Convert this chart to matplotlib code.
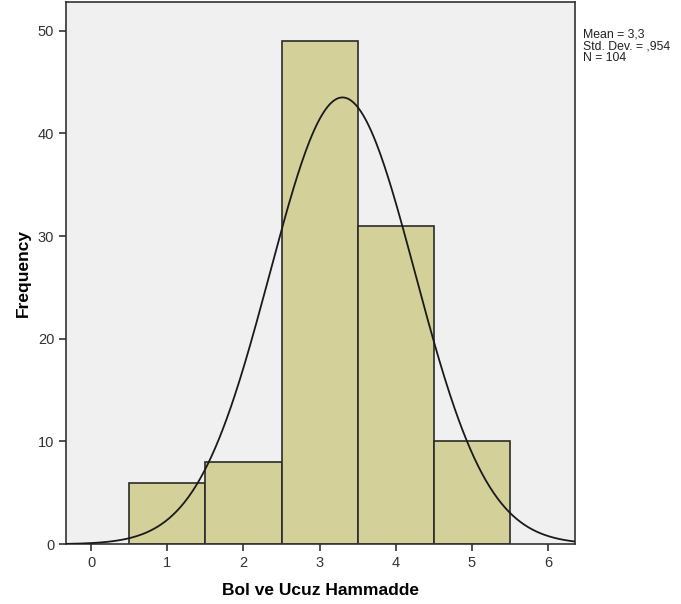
import numpy as np
import matplotlib
matplotlib.use('Agg')
import matplotlib.pyplot as plt

plt.rcParams['font.family'] = ['Liberation Sans', 'DejaVu Sans']

# Histogram data (bin centers and frequencies)
bins = [1, 2, 3, 4, 5]
counts = [6, 8, 49, 31, 10]
mean = 3.3
std = 0.954
n = 104
x_ticks = [0, 1, 2, 3, 4, 5, 6]
y_ticks = [0, 10, 20, 30, 40, 50]

fig = plt.figure(figsize=(6.81, 6.04), dpi=100)
ax = fig.add_axes([0.097, 0.099, 0.747, 0.898])
ax.set_facecolor('#f0f0f0')

ax.bar(bins, counts, width=1.0, color='#d4d09a', edgecolor='#2b2b2b', linewidth=1.2, zorder=2)

# Normal curve scaled to counts (bin width 1)
xs = np.linspace(-0.35, 6.4, 400)
ys = n * np.exp(-0.5 * ((xs - mean) / std) ** 2) / (std * np.sqrt(2 * np.pi))
ax.plot(xs, ys, color='#1a1a1a', linewidth=1.3, zorder=3)

ax.set_xlim(-0.33, 6.35)
ax.set_ylim(0, 52.8)
ax.set_xticks(x_ticks)
ax.set_yticks(y_ticks)
ax.tick_params(direction='out', length=5, width=1.2, colors='#333333', labelsize=10.5, labelcolor='#333333')
for s in ax.spines.values():
    s.set_color('#333333')
    s.set_linewidth(1.2)

ax.set_xlabel('Bol ve Ucuz Hammadde', fontsize=12.5, fontweight='bold', labelpad=9)
ax.set_ylabel('Frequency', fontsize=12.5, fontweight='bold', labelpad=5)

fig.text(0.856, 0.952, 'Mean = 3,3\nStd. Dev. = ,954\nN = 104', fontsize=8.8,
         va='top', ha='left', linespacing=0.95, color='#222222')

fig.savefig('out.png', dpi=100, facecolor='white')
